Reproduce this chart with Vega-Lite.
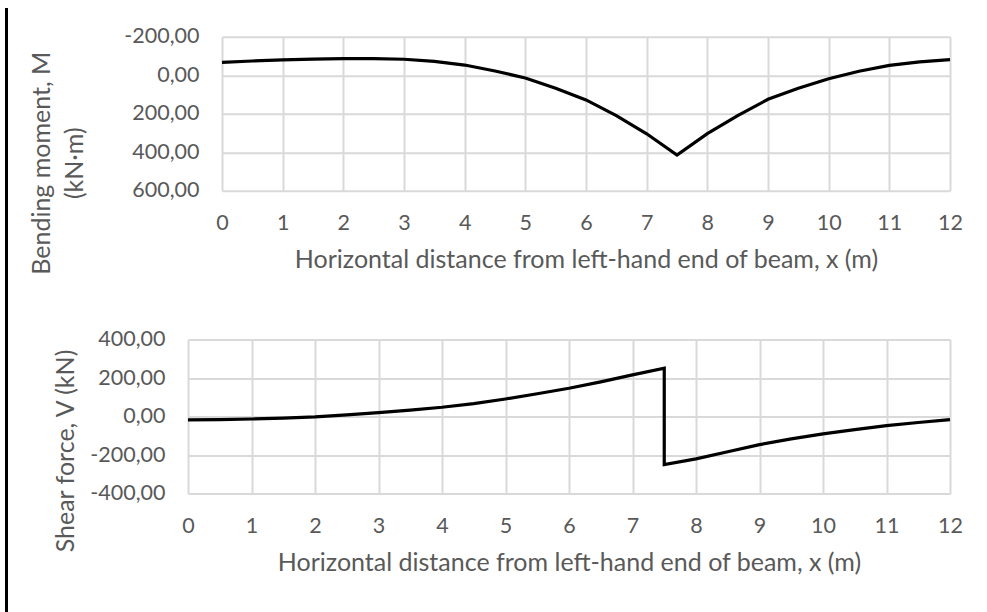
{
  "$schema": "https://vega.github.io/schema/vega-lite/v6.json",
  "background": "white",
  "padding": {"left": 5, "top": 8, "right": 5, "bottom": 0},
  "datasets": {
    "moment": [
      {"x": 0, "M": -67}, {"x": 0.5, "M": -74}, {"x": 1, "M": -80}, {"x": 1.5, "M": -84},
      {"x": 2, "M": -86}, {"x": 2.5, "M": -86}, {"x": 3, "M": -83}, {"x": 3.5, "M": -72},
      {"x": 4, "M": -53}, {"x": 4.5, "M": -22}, {"x": 5, "M": 14}, {"x": 5.5, "M": 67},
      {"x": 6, "M": 128}, {"x": 6.5, "M": 210}, {"x": 7, "M": 304}, {"x": 7.5, "M": 415},
      {"x": 8, "M": 303}, {"x": 8.5, "M": 210}, {"x": 9, "M": 125}, {"x": 9.5, "M": 68},
      {"x": 10, "M": 18}, {"x": 10.5, "M": -21}, {"x": 11, "M": -51}, {"x": 11.5, "M": -69},
      {"x": 12, "M": -81}
    ],
    "shear": [
      {"i": 0, "x": 0, "V": -18}, {"i": 1, "x": 0.5, "V": -16}, {"i": 2, "x": 1, "V": -13},
      {"i": 3, "x": 1.5, "V": -8}, {"i": 4, "x": 2, "V": -2}, {"i": 5, "x": 2.5, "V": 8},
      {"i": 6, "x": 3, "V": 20}, {"i": 7, "x": 3.5, "V": 33}, {"i": 8, "x": 4, "V": 48},
      {"i": 9, "x": 4.5, "V": 67}, {"i": 10, "x": 5, "V": 91}, {"i": 11, "x": 5.5, "V": 118},
      {"i": 12, "x": 6, "V": 147}, {"i": 13, "x": 6.5, "V": 180}, {"i": 14, "x": 7, "V": 216},
      {"i": 15, "x": 7.5, "V": 251}, {"i": 16, "x": 7.5, "V": -250}, {"i": 17, "x": 8, "V": -220},
      {"i": 18, "x": 8.5, "V": -183}, {"i": 19, "x": 9, "V": -146}, {"i": 20, "x": 9.5, "V": -116},
      {"i": 21, "x": 10, "V": -90}, {"i": 22, "x": 10.5, "V": -68}, {"i": 23, "x": 11, "V": -47},
      {"i": 24, "x": 11.5, "V": -31}, {"i": 25, "x": 12, "V": -16}
    ]
  },
  "spacing": 0,
  "vconcat": [
    {
      "spacing": 21,
      "center": true,
      "hconcat": [
        {
          "width": 3,
          "height": 295,
          "view": {"fill": "black", "stroke": null},
          "data": {"values": [{}]},
          "mark": {"type": "rect", "color": "black"},
          "encoding": {}
        },
        {
          "width": 728,
          "height": 154,
          "view": {"stroke": null},
          "data": {"name": "moment"},
          "mark": {"type": "line", "color": "black", "strokeWidth": 3.2},
          "encoding": {
            "x": {
              "field": "x",
              "type": "quantitative",
              "scale": {"domain": [0, 12], "nice": false},
              "axis": {
                "values": [0, 1, 2, 3, 4, 5, 6, 7, 8, 9, 10, 11, 12],
                "format": "d",
                "title": "Horizontal distance from left-hand end of beam, x (m)",
                "labelPadding": 21.5,
                "titlePadding": 14
              }
            },
            "y": {
              "field": "M",
              "type": "quantitative",
              "scale": {"domain": [-200, 600], "reverse": true, "nice": false},
              "axis": {
                "values": [-200, 0, 200, 400, 600],
                "labelExpr": "(datum.value < 0 ? '-' : '') + replace(format(abs(datum.value), '.2f'), '.', ',')",
                "title": ["Bending moment, M", "(kN·m)"],
                "labelPadding": 23,
                "titlePadding": 36,
                "titleLineHeight": 33,
                "titleY": 126
              }
            }
          }
        }
      ]
    },
    {
      "spacing": 45,
      "center": true,
      "hconcat": [
        {
          "width": 3,
          "height": 309,
          "view": {"fill": "black", "stroke": null},
          "data": {"values": [{}]},
          "mark": {"type": "rect", "color": "black"},
          "encoding": {}
        },
        {
          "width": 762,
          "height": 154,
          "view": {"stroke": null},
          "data": {"name": "shear"},
          "mark": {"type": "line", "color": "black", "strokeWidth": 3.2},
          "encoding": {
            "x": {
              "field": "x",
              "type": "quantitative",
              "scale": {"domain": [0, 12], "nice": false},
              "axis": {
                "values": [0, 1, 2, 3, 4, 5, 6, 7, 8, 9, 10, 11, 12],
                "format": "d",
                "title": "Horizontal distance from left-hand end of beam, x (m)",
                "labelPadding": 21.5,
                "titlePadding": 14
              }
            },
            "y": {
              "field": "V",
              "type": "quantitative",
              "scale": {"domain": [-400, 400], "nice": false},
              "axis": {
                "values": [-400, -200, 0, 200, 400],
                "labelExpr": "(datum.value < 0 ? '-' : '') + replace(format(abs(datum.value), '.2f'), '.', ',')",
                "title": "Shear force, V (kN)",
                "labelPadding": 23,
                "titlePadding": 11,
                "titleY": 111
              }
            },
            "order": {"field": "i", "type": "quantitative"}
          }
        }
      ]
    }
  ],
  "config": {
    "axis": {
      "labelFont": "Lato",
      "titleFont": "Lato",
      "labelFontSize": 21.5,
      "titleFontSize": 25,
      "labelColor": "#595959",
      "titleColor": "#595959",
      "titleFontWeight": "normal",
      "domain": false,
      "ticks": false,
      "tickSize": 0,
      "grid": true,
      "gridColor": "#d9d9d9",
      "gridWidth": 2,
      "labelFlush": false,
      "labelOverlap": false
    }
  }
}
